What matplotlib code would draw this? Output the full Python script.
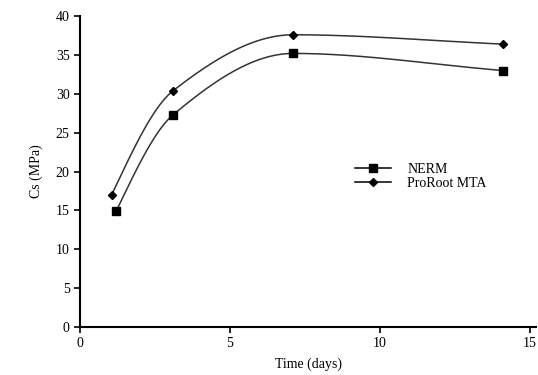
import numpy as np
import matplotlib
matplotlib.use('Agg')
import matplotlib.pyplot as plt

plt.rcParams['font.family'] = 'Liberation Serif'

# Données
nerm_days = [1.2, 3.1, 7.1, 14.1]
nerm_cs = [14.9, 27.3, 35.2, 33.0]
mta_days = [1.05, 3.1, 7.1, 14.1]
mta_cs = [17.0, 30.4, 37.6, 36.4]


def pchip_tangents(x, y):
    """Tangentes de type PCHIP (Fritsch-Carlson)"""
    h = np.diff(x)
    d = np.diff(y) / h
    m = len(x)
    t = np.zeros(m)
    for i in range(1, m - 1):
        if d[i - 1] * d[i] > 0:
            w1 = 2 * h[i] + h[i - 1]
            w2 = h[i] + 2 * h[i - 1]
            t[i] = (w1 + w2) / (w1 / d[i - 1] + w2 / d[i])
    # début : formule à trois points, fin : pente de la corde
    t[0] = ((2 * h[0] + h[1]) * d[0] - h[0] * d[1]) / (h[0] + h[1])
    if np.sign(t[0]) != np.sign(d[0]):
        t[0] = 0
    t[-1] = d[-1]
    return t


def smooth_curve(x, y, n=60):
    x = np.asarray(x, float)
    y = np.asarray(y, float)
    t = pchip_tangents(x, y)
    xs_all, ys_all = [], []
    for i in range(len(x) - 1):
        h = x[i + 1] - x[i]
        s = np.linspace(0, 1, n)
        h00 = 2 * s**3 - 3 * s**2 + 1
        h10 = s**3 - 2 * s**2 + s
        h01 = -2 * s**3 + 3 * s**2
        h11 = s**3 - s**2
        xs_all.append(x[i] + s * h)
        ys_all.append(h00 * y[i] + h10 * h * t[i] + h01 * y[i + 1] + h11 * h * t[i + 1])
    return np.concatenate(xs_all), np.concatenate(ys_all)


fig = plt.figure(figsize=(5.38, 3.75), dpi=100)
ax = fig.add_axes([0.149, 0.128, 0.847, 0.829])

xs, ys = smooth_curve(nerm_days, nerm_cs)
ax.plot(xs, ys, color='#333333', lw=1.1)
xs, ys = smooth_curve(mta_days, mta_cs)
ax.plot(xs, ys, color='#333333', lw=1.1)

ax.plot(nerm_days, nerm_cs, 's', color='black', ms=6)
ax.plot(mta_days, mta_cs, 'D', color='black', ms=4)

# Entrées de légende
ax.plot([], [], 's-', color='black', ms=6, lw=1.1, label='NERM')
ax.plot([], [], 'D-', color='black', ms=4, lw=1.1, label='ProRoot MTA')
ax.legend(loc='center left', bbox_to_anchor=(0.575, 0.485), frameon=False,
          fontsize=10, handlelength=2.6, labelspacing=0.1, handletextpad=1.2)

ax.set_xlim(0, 15.2)
ax.set_ylim(0, 40)
ax.set_xticks([0, 5, 10, 15])
ax.set_yticks(np.arange(0, 41, 5))
ax.spines['top'].set_visible(False)
ax.spines['right'].set_visible(False)
ax.spines['left'].set_linewidth(1.5)
ax.spines['bottom'].set_linewidth(1.5)
ax.tick_params(direction='out', length=4, width=1.2, labelsize=10)
ax.set_xlabel('Time (days)', fontsize=10, labelpad=5)
ax.set_ylabel('Cs (MPa)', fontsize=10, labelpad=9)

fig.savefig('out.png', dpi=100)
